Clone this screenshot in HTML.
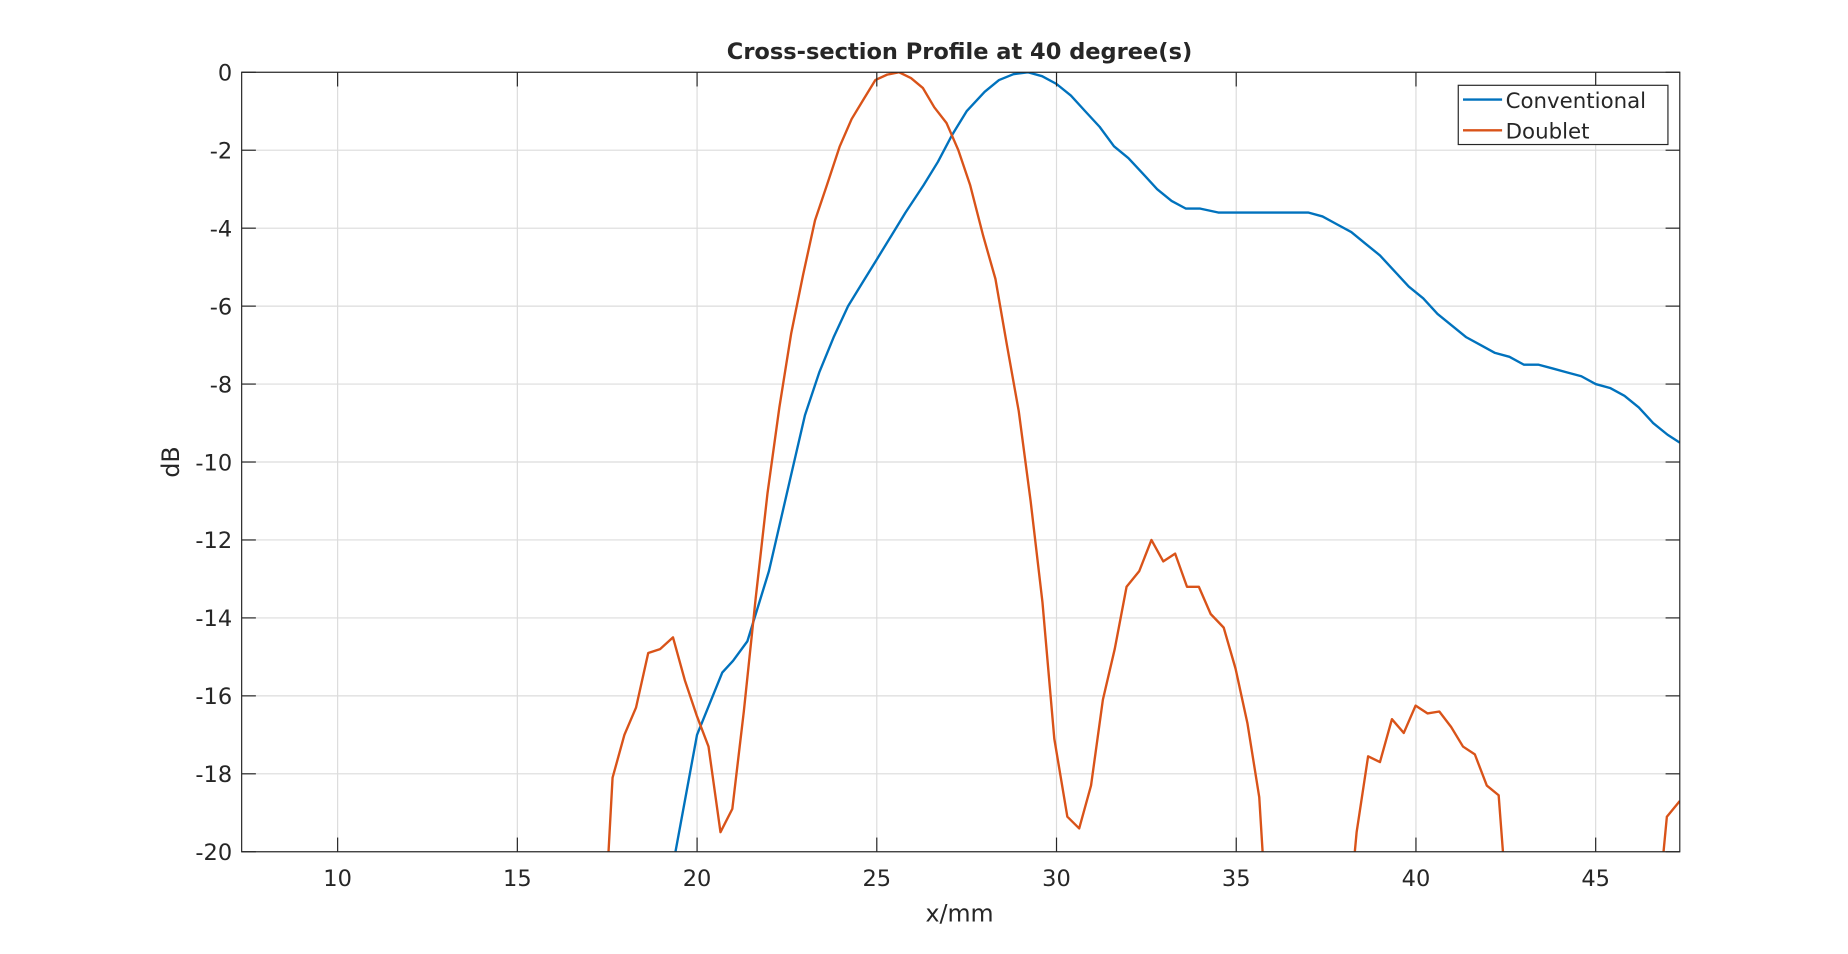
<!DOCTYPE html>
<html><head><meta charset="utf-8"><style>html,body{margin:0;padding:0;background:#fff;width:1848px;height:954px;overflow:hidden}svg{display:block;position:absolute;left:0;top:0}text{font-family:"DejaVu Sans","Liberation Sans",sans-serif;fill:#262626}</style></head>
<body>
<svg id="chart" width="1848" height="954" viewBox="0 0 1560 805.3" preserveAspectRatio="none" xmlns="http://www.w3.org/2000/svg">
<defs><clipPath id="clip"><rect x="204" y="61" width="1214" height="658"/></clipPath></defs>
<g id="grid"></g>
<g id="series" clip-path="url(#clip)"></g>
<rect x="204" y="61" width="1214" height="658" fill="none" stroke="#262626" stroke-width="1"/>
<g id="ticks"></g>
<text x="810" y="50" text-anchor="middle" font-weight="bold" font-size="19" fill="#000">Cross-section Profile at 40 degree(s)</text>
<text x="810" y="778" text-anchor="middle" font-size="20">x/mm</text>
<text transform="translate(151,390) rotate(-90)" text-anchor="middle" font-size="20">dB</text>
<g>
<rect x="1231" y="72" width="177" height="50" fill="#fff" stroke="#262626" stroke-width="1"/>
<line x1="1235" y1="84" x2="1268" y2="84" stroke="#0072BD" stroke-width="2"/>
<text x="1271" y="91" font-size="18" fill="#000">Conventional</text>
<line x1="1235" y1="110" x2="1268" y2="110" stroke="#D95319" stroke-width="2"/>
<text x="1271" y="117" font-size="18" fill="#000">Doublet</text>
</g>
</svg>
<script>
const xTicks = [10,15,20,25,30,35,40,45];
const yTicks = [0,-2,-4,-6,-8,-10,-12,-14,-16,-18,-20];
const convX = [19.4,20.0,20.7,21.0,21.4,22.0,22.6,23.0,23.4,23.8,24.2,24.6,25.0,25.4,25.8,26.3,26.7,27.1,27.5,28.0,28.4,28.8,29.2,29.6,30.0,30.4,30.8,31.2,31.6,32.0,32.4,32.8,33.2,33.6,34.0,34.5,35.0,35.5,36.0,36.5,37.0,37.4,37.8,38.2,38.6,39.0,39.4,39.8,40.2,40.6,41.0,41.4,41.8,42.2,42.6,43.0,43.4,43.8,44.2,44.6,45.0,45.4,45.8,46.2,46.6,47.0,47.34];
const convY = [-20,-17.0,-15.4,-15.1,-14.6,-12.8,-10.4,-8.8,-7.7,-6.8,-6.0,-5.4,-4.8,-4.2,-3.6,-2.9,-2.3,-1.6,-1.0,-0.5,-0.2,-0.05,0,-0.1,-0.3,-0.6,-1.0,-1.4,-1.9,-2.2,-2.6,-3.0,-3.3,-3.5,-3.5,-3.6,-3.6,-3.6,-3.6,-3.6,-3.6,-3.7,-3.9,-4.1,-4.4,-4.7,-5.1,-5.5,-5.8,-6.2,-6.5,-6.8,-7.0,-7.2,-7.3,-7.5,-7.5,-7.6,-7.7,-7.8,-8.0,-8.1,-8.3,-8.6,-9.0,-9.3,-9.5];
const dblX = [17.3,17.65,17.98,18.3,18.64,18.97,19.33,19.66,19.99,20.32,20.65,20.98,21.3,21.63,21.96,22.29,22.62,22.95,23.28,23.61,23.97,24.3,24.63,24.96,25.29,25.62,25.95,26.28,26.6,26.94,27.27,27.6,27.96,28.3,28.62,28.95,29.28,29.61,29.94,30.3,30.63,30.96,31.29,31.62,31.95,32.3,32.64,32.97,33.3,33.63,33.96,34.29,34.65,34.98,35.31,35.64,36.0,37.0,38.1,38.35,38.67,39.0,39.33,39.66,39.99,40.32,40.65,40.98,41.31,41.64,41.97,42.3,42.75,44.5,46.68,46.98,47.34];
const dblY = [-24,-18.1,-17.0,-16.3,-14.9,-14.8,-14.5,-15.6,-16.5,-17.3,-19.5,-18.9,-16.4,-13.5,-10.8,-8.6,-6.7,-5.2,-3.8,-2.9,-1.9,-1.2,-0.7,-0.2,-0.06,0,-0.15,-0.4,-0.9,-1.3,-2.0,-2.9,-4.2,-5.3,-7.0,-8.7,-11.0,-13.6,-17.1,-19.1,-19.4,-18.3,-16.1,-14.8,-13.2,-12.8,-12.0,-12.55,-12.35,-13.2,-13.2,-13.9,-14.25,-15.3,-16.7,-18.6,-24,-28,-22,-19.5,-17.55,-17.7,-16.6,-16.95,-16.25,-16.45,-16.4,-16.8,-17.3,-17.5,-18.3,-18.55,-24,-30,-22,-19.1,-18.7];
const X0=7.33,X1=47.34,L=204,R=1418,T=61,B=719,Y0=-20,Y1=0;
const sx=v=>L+(v-X0)/(X1-X0)*(R-L);
const sy=v=>B-(v-Y0)/(Y1-Y0)*(B-T);
const NS='http://www.w3.org/2000/svg';
const grid=document.getElementById('grid'),ticks=document.getElementById('ticks'),series=document.getElementById('series');
function mk(tag,attrs,parent){const e=document.createElementNS(NS,tag);for(const k in attrs)e.setAttribute(k,attrs[k]);parent.appendChild(e);return e;}
xTicks.forEach(t=>{const x=sx(t);
const g=mk('line',{x1:x,x2:x,y1:T,y2:B,stroke:'#dcdcdc','stroke-width':1},grid);


const a=mk('line',{x1:x,x2:x,y1:B,y2:B-12,stroke:'#262626'},ticks);


const b=mk('line',{x1:x,x2:x,y1:T,y2:T+12,stroke:'#262626'},ticks);


const tx=mk('text',{x:x,y:B+29,'text-anchor':'middle','font-size':19},ticks);tx.textContent=t;

});
yTicks.forEach(t=>{const y=sy(t);
const g=mk('line',{x1:L,x2:R,y1:y,y2:y,stroke:'#dcdcdc','stroke-width':1},grid);


const a=mk('line',{x1:L,x2:L+12,y1:y,y2:y,stroke:'#262626'},ticks);


const b=mk('line',{x1:R,x2:R-12,y1:y,y2:y,stroke:'#262626'},ticks);


const tx=mk('text',{x:L-8,y:y+7,'text-anchor':'end','font-size':19},ticks);tx.textContent=t;

});
function line(xs,ys,color,name){const d=xs.map((v,i)=>(i?'L':'M')+sx(v).toFixed(1)+','+sy(ys[i]).toFixed(1)).join(' ');
const p=mk('path',{d:d,fill:'none',stroke:color,'stroke-width':2,'stroke-linejoin':'round'},series);

}
line(convX,convY,'#0072BD','conventional-line');
line(dblX,dblY,'#D95319','doublet-line');
</script>
</body></html>
